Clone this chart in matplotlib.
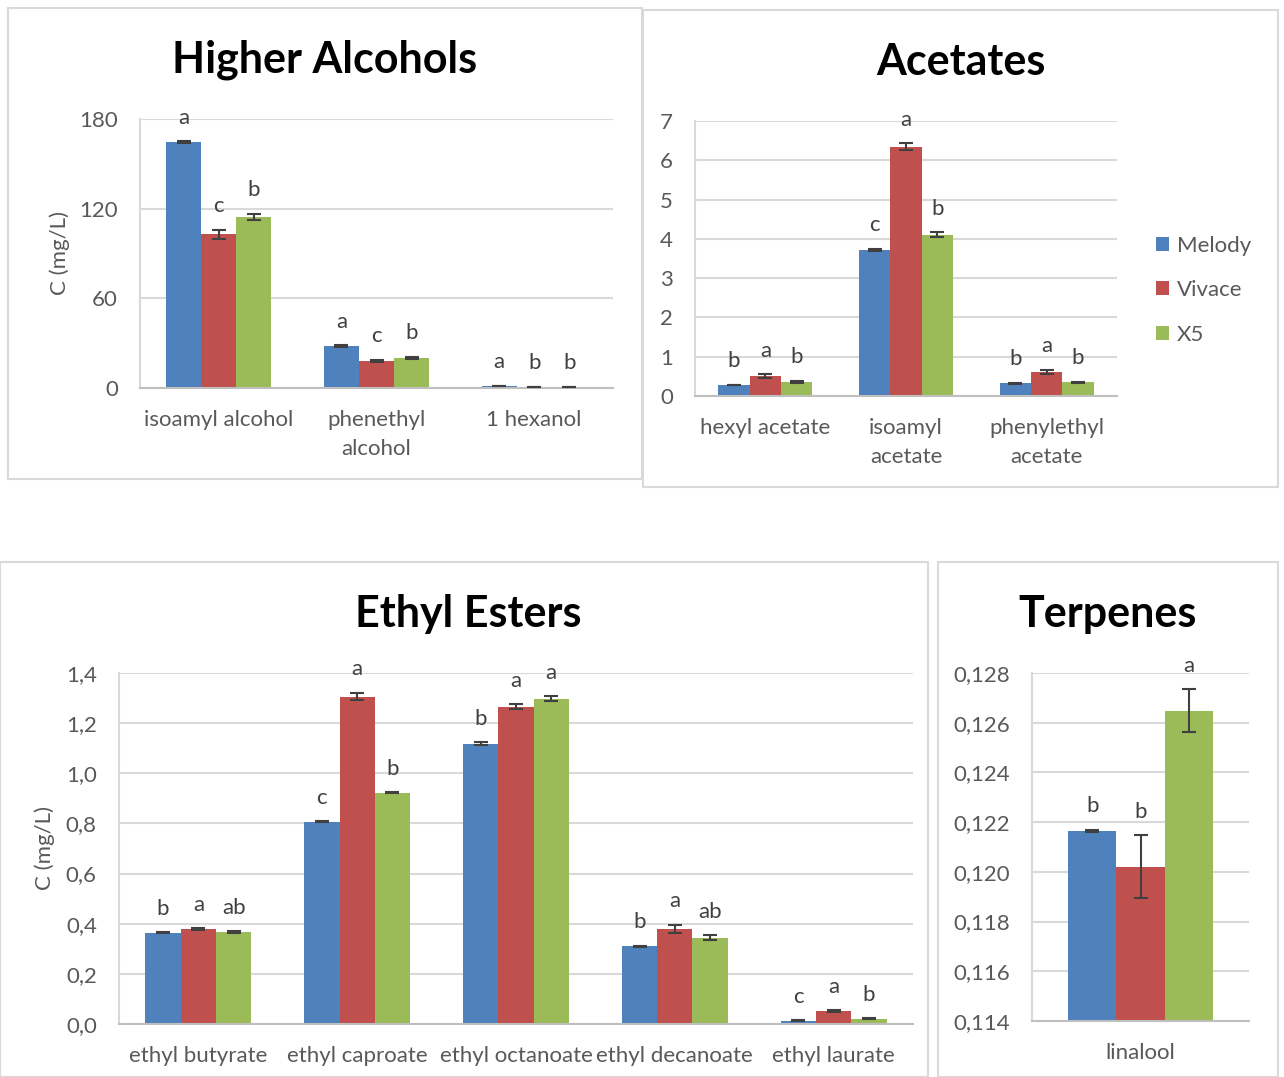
import matplotlib
matplotlib.use("Agg")
import matplotlib.pyplot as plt
import numpy as np
from matplotlib.patches import Rectangle

W, H = 1284, 1077
plt.rcParams["font.family"] = ["Lato", "DejaVu Sans"]

STRAINS = ["Melody", "Vivace", "X5"]
COLORS = ["#4f81bd", "#c0504d", "#9bbb59"]

# higher alcohols (mg/L)
ALC_CATS = ["isoamyl alcohol", "phenethyl\nalcohol", "1 hexanol"]
ALC_MELODY = [164.6, 28.1, 1.3]
ALC_VIVACE = [103.0, 18.1, 0.7]
ALC_X5 = [114.4, 20.1, 0.8]
ALC_ERR_MELODY = [0.6, 0.5, 0.2]
ALC_ERR_VIVACE = [3.0, 0.8, 0.2]
ALC_ERR_X5 = [2.2, 0.8, 0.2]
ALC_LET_MELODY = ["a", "a", "a"]
ALC_LET_VIVACE = ["c", "c", "b"]
ALC_LET_X5 = ["b", "b", "b"]
ALC_TICKS = [0, 60, 120, 180]

# acetates (mg/L)
ACE_CATS = ["hexyl acetate", "isoamyl\nacetate", "phenylethyl\nacetate"]
ACE_MELODY = [0.28, 3.72, 0.32]
ACE_VIVACE = [0.51, 6.35, 0.62]
ACE_X5 = [0.36, 4.11, 0.35]
ACE_ERR_MELODY = [0.01, 0.02, 0.01]
ACE_ERR_VIVACE = [0.04, 0.08, 0.05]
ACE_ERR_X5 = [0.02, 0.06, 0.01]
ACE_LET_MELODY = ["b", "c", "b"]
ACE_LET_VIVACE = ["a", "a", "a"]
ACE_LET_X5 = ["b", "b", "b"]
ACE_TICKS = [0, 1, 2, 3, 4, 5, 6, 7]

# ethyl esters (mg/L)
EST_CATS = ["ethyl butyrate", "ethyl caproate", "ethyl octanoate",
            "ethyl decanoate", "ethyl laurate"]
EST_MELODY = [0.363, 0.807, 1.117, 0.311, 0.012]
EST_VIVACE = [0.379, 1.306, 1.265, 0.379, 0.052]
EST_X5 = [0.367, 0.922, 1.297, 0.344, 0.021]
EST_ERR_MELODY = [0.002, 0.002, 0.006, 0.002, 0.002]
EST_ERR_VIVACE = [0.003, 0.015, 0.010, 0.016, 0.003]
EST_ERR_X5 = [0.003, 0.002, 0.010, 0.010, 0.002]
EST_LET_MELODY = ["b", "c", "b", "b", "c"]
EST_LET_VIVACE = ["a", "a", "a", "a", "a"]
EST_LET_X5 = ["ab", "b", "a", "ab", "b"]
EST_TICKS = [0.0, 0.2, 0.4, 0.6, 0.8, 1.0, 1.2, 1.4]

# terpenes (mg/L)
TER_CATS = ["linalool"]
TER_MELODY = [0.12165]
TER_VIVACE = [0.12020]
TER_X5 = [0.12648]
TER_ERR_MELODY = [0.00005]
TER_ERR_VIVACE = [0.00127]
TER_ERR_X5 = [0.00087]
TER_LET_MELODY = ["b"]
TER_LET_VIVACE = ["b"]
TER_LET_X5 = ["a"]
TER_TICKS = [0.114, 0.116, 0.118, 0.120, 0.122, 0.124, 0.126, 0.128]

TICK_COL = "#595959"
GRID_COL = "#d9d9d9"
FS = 16

fig = plt.figure(figsize=(W / 100, H / 100), dpi=100)


def px_axes(l, t, r, b):
    return fig.add_axes([l / W, 1 - b / H, (r - l) / W, (b - t) / H])


def box(l, t, r, b):
    fig.patches.append(Rectangle((l / W, 1 - b / H), (r - l) / W, (b - t) / H,
                                 transform=fig.transFigure, fill=False,
                                 edgecolor=GRID_COL, lw=1.5, zorder=0))


def panel(ax, cats, series, errs, letters, ticks, decimals):
    x = np.arange(len(cats))
    bw = 1 / 4.5
    for i, (vals, err, lets) in enumerate(zip(series, errs, letters)):
        xs = x + (i - 1) * bw
        ax.bar(xs, vals, bw, color=COLORS[i], edgecolor="none",
               label=STRAINS[i], zorder=2)
        ax.errorbar(xs, vals, yerr=err, fmt="none", ecolor="#404040",
                    elinewidth=1.5, capsize=5, capthick=1.5, zorder=3)
        for xi, v, e, s in zip(xs, vals, err, lets):
            ax.annotate(s, (xi, v + e), xytext=(0, 17), textcoords="offset points",
                        ha="center", va="center", fontsize=FS, color="#404040")
    ax.set_xlim(-0.5, len(cats) - 0.5)
    ax.set_ylim(ticks[0], ticks[-1])
    ax.set_yticks(ticks)
    ax.set_yticklabels([f"{t:.{decimals}f}".replace(".", ",") for t in ticks])
    ax.set_xticks(x)
    ax.set_xticklabels(cats, linespacing=1.6)
    ax.tick_params(length=0, labelsize=FS, colors=TICK_COL)
    ax.tick_params(axis="x", pad=15.5)
    ax.tick_params(axis="y", pad=16)
    ax.grid(axis="y", color=GRID_COL, lw=1.5, zorder=0)
    ax.set_axisbelow(True)
    for s in ["top", "right"]:
        ax.spines[s].set_visible(False)
    ax.spines["left"].set_color(GRID_COL)
    ax.spines["left"].set_linewidth(1.5)
    ax.spines["bottom"].set_color("#bfbfbf")
    ax.spines["bottom"].set_linewidth(1.5)
    ax.set_facecolor("none")


# panel frames
box(8, 8, 642, 479)
box(643, 10, 1278, 487)
box(0, 562, 928, 1077)
box(938, 562, 1278, 1077)

ax1 = px_axes(140, 119, 613, 388)
panel(ax1, ALC_CATS, [ALC_MELODY, ALC_VIVACE, ALC_X5],
      [ALC_ERR_MELODY, ALC_ERR_VIVACE, ALC_ERR_X5],
      [ALC_LET_MELODY, ALC_LET_VIVACE, ALC_LET_X5], ALC_TICKS, 0)
fig.text(325 / W, 1 - 60 / H, "Higher Alcohols", ha="center", va="center",
         fontsize=31, fontweight="bold")
fig.text(60 / W, 1 - 253 / H, "C (mg/L)", rotation=90, ha="center", va="center",
         fontsize=FS, color=TICK_COL)

ax2 = px_axes(695, 121, 1117, 396)
panel(ax2, ACE_CATS, [ACE_MELODY, ACE_VIVACE, ACE_X5],
      [ACE_ERR_MELODY, ACE_ERR_VIVACE, ACE_ERR_X5],
      [ACE_LET_MELODY, ACE_LET_VIVACE, ACE_LET_X5], ACE_TICKS, 0)
fig.text(961 / W, 1 - 62 / H, "Acetates", ha="center", va="center",
         fontsize=31, fontweight="bold")
ax2.legend(loc="center left", bbox_to_anchor=(1.045, 0.385), frameon=False,
           fontsize=FS, labelcolor=TICK_COL, handlelength=0.6, handleheight=0.6,
           handletextpad=0.35, labelspacing=1.1)

ax3 = px_axes(119, 673, 913, 1024)
panel(ax3, EST_CATS, [EST_MELODY, EST_VIVACE, EST_X5],
      [EST_ERR_MELODY, EST_ERR_VIVACE, EST_ERR_X5],
      [EST_LET_MELODY, EST_LET_VIVACE, EST_LET_X5], EST_TICKS, 1)
fig.text(468 / W, 1 - 614 / H, "Ethyl Esters", ha="center", va="center",
         fontsize=31, fontweight="bold")
fig.text(45 / W, 1 - 848 / H, "C (mg/L)", rotation=90, ha="center", va="center",
         fontsize=FS, color=TICK_COL)

ax4 = px_axes(1032, 673, 1249, 1021)
panel(ax4, TER_CATS, [TER_MELODY, TER_VIVACE, TER_X5],
      [TER_ERR_MELODY, TER_ERR_VIVACE, TER_ERR_X5],
      [TER_LET_MELODY, TER_LET_VIVACE, TER_LET_X5], TER_TICKS, 3)
fig.text(1108 / W, 1 - 614 / H, "Terpenes", ha="center", va="center",
         fontsize=31, fontweight="bold")

fig.savefig("out.png", dpi=100)
